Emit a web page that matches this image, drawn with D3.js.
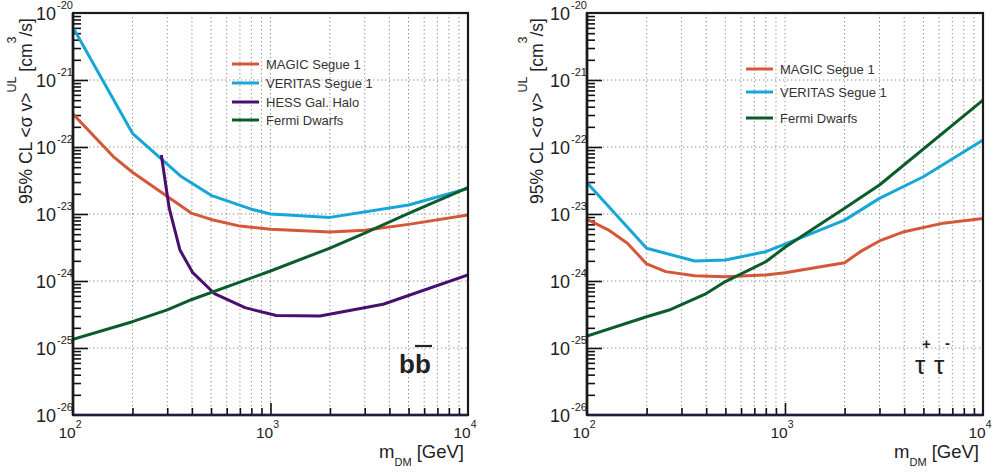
<!DOCTYPE html>
<html><head><meta charset="utf-8">
<script src="https://cdn.jsdelivr.net/npm/d3@7"></script>
<style>body{margin:0;background:#fff}svg{font-family:"Liberation Sans",Arial,Helvetica,sans-serif}</style>
</head><body><svg id="c" width="994" height="473"></svg>
<script>
// ---------- data ----------
const xDecades = [100, 1000, 10000];
const xExponents = ["2", "3", "4"];
const yDecades = [1e-26, 1e-25, 1e-24, 1e-23, 1e-22, 1e-21, 1e-20];
const yExponents = ["-26", "-25", "-24", "-23", "-22", "-21", "-20"];

const seriesNames = ["MAGIC Segue 1", "VERITAS Segue 1", "HESS Gal. Halo", "Fermi Dwarfs"];
const seriesColors = ["#d4573a", "#17a6d8", "#4a0f6e", "#0b5c2a"];

// b bbar channel
const magicBbMass = [100, 160, 200, 400, 500, 700, 1000, 2000, 3000, 5000, 10000];
const magicBbUL   = [3.1e-22, 7.2e-23, 4.2e-23, 1.02e-23, 8.3e-24, 6.6e-24, 5.9e-24, 5.4e-24, 5.7e-24, 7.0e-24, 9.7e-24];
const veritasBbMass = [100, 200, 350, 500, 800, 1000, 2000, 5000, 10000];
const veritasBbUL   = [6.1e-21, 1.6e-22, 3.7e-23, 1.9e-23, 1.18e-23, 1.0e-23, 8.9e-24, 1.36e-23, 2.4e-23];
const hessBbMass = [280, 307, 348, 404, 520, 743, 1070, 1780, 3720, 10000];
const hessBbUL   = [7.6e-23, 1.22e-23, 2.9e-24, 1.33e-24, 6.5e-25, 4.0e-25, 3.05e-25, 3.0e-25, 4.5e-25, 1.23e-24];
const fermiBbMass = [100, 200, 300, 400, 1000, 2000, 3000, 5000, 10000];
const fermiBbUL   = [1.35e-25, 2.47e-25, 3.7e-25, 5.3e-25, 1.41e-24, 3.1e-24, 5.2e-24, 1.02e-23, 2.47e-23];

// tau+ tau- channel
const magicTauMass = [100, 128, 160, 200, 250, 350, 500, 800, 1000, 2000, 2400, 3000, 4000, 6300, 10000];
const magicTauUL   = [8.3e-24, 5.8e-24, 3.66e-24, 1.8e-24, 1.38e-24, 1.2e-24, 1.16e-24, 1.23e-24, 1.33e-24, 1.87e-24, 2.74e-24, 3.96e-24, 5.45e-24, 7.3e-24, 8.6e-24];
const veritasTauMass = [100, 200, 350, 500, 800, 1000, 2000, 3000, 5000, 10000];
const veritasTauUL   = [2.93e-23, 3.08e-24, 1.99e-24, 2.06e-24, 2.74e-24, 3.56e-24, 8.1e-24, 1.71e-23, 3.6e-23, 1.27e-22];
const fermiTauMass = [100, 200, 260, 400, 500, 800, 1000, 2000, 3000, 10000];
const fermiTauUL   = [1.51e-25, 2.93e-25, 3.69e-25, 6.5e-25, 9.8e-25, 1.94e-24, 3.19e-24, 1.22e-23, 2.71e-23, 5.0e-22];

const panels = [
  { x0: 73, x1: 468, y0: 13, y1: 415, titleX: 32,
    series: [[magicBbMass, magicBbUL, 0], [veritasBbMass, veritasBbUL, 1], [hessBbMass, hessBbUL, 2], [fermiBbMass, fermiBbUL, 3]],
    legend: { lx: 232, tx: 266, rows: [64, 83, 102, 120], idx: [0, 1, 2, 3] } },
  { x0: 587, x1: 983, y0: 13, y1: 415, titleX: 543,
    series: [[magicTauMass, magicTauUL, 0], [veritasTauMass, veritasTauUL, 1], [fermiTauMass, fermiTauUL, 3]],
    legend: { lx: 746, tx: 780, rows: [69, 92, 118], idx: [0, 1, 3] } }
];

// ---------- drawing ----------
const svg = d3.select("#c");
const minorX = [], minorY = [];
xDecades.slice(0, -1).forEach(d => { for (let k = 2; k <= 9; k++) minorX.push(d * k); });
yDecades.slice(0, -1).forEach(d => { for (let k = 2; k <= 9; k++) minorY.push(d * k); });

panels.forEach((p, pi) => {
  const g = svg.append("g");
  const x = d3.scaleLog().domain([100, 1e4]).range([p.x0, p.x1]);
  const y = d3.scaleLog().domain([1e-26, 1e-20]).range([p.y1, p.y0]);

  const clipId = "clip" + pi;
  svg.append("clipPath").attr("id", clipId).append("rect")
    .attr("x", p.x0).attr("y", p.y0).attr("width", p.x1 - p.x0).attr("height", p.y1 - p.y0);

  // grid
  const vgrid = minorX.concat([1000]);
  g.append("g").selectAll("line").data(vgrid).join("line")
    .attr("x1", d => x(d)).attr("x2", d => x(d)).attr("y1", p.y0).attr("y2", p.y1)
    .attr("stroke", "#8c8c8c").attr("stroke-width", 1).attr("stroke-dasharray", "1.3,2.7");
  g.append("g").selectAll("line").data(yDecades.slice(1, -1)).join("line")
    .attr("x1", p.x0).attr("x2", p.x1).attr("y1", d => y(d)).attr("y2", d => y(d))
    .attr("stroke", "#8c8c8c").attr("stroke-width", 1).attr("stroke-dasharray", "1.3,2.7");

  // axes ticks (inside)
  const axY1 = g.append("g").attr("transform", `translate(${p.x0},0)`)
    .call(d3.axisRight(y).tickValues(minorY).tickSize(8).tickFormat(""));
  const axY2 = g.append("g").attr("transform", `translate(${p.x0},0)`)
    .call(d3.axisRight(y).tickValues(yDecades.slice(1, -1)).tickSize(15).tickFormat(""));
  const axX1 = g.append("g").attr("transform", `translate(0,${p.y1})`)
    .call(d3.axisTop(x).tickValues(minorX).tickSize(7).tickFormat(""));
  const axX2 = g.append("g").attr("transform", `translate(0,${p.y1})`)
    .call(d3.axisTop(x).tickValues([1000]).tickSize(12).tickFormat(""));
  [axY1, axY2, axX1, axX2].forEach(a => {
    a.select(".domain").remove();
    a.selectAll(".tick line").attr("stroke", "#111").attr("stroke-width", 1.6);
  });

  // curves
  const line = d3.line().x(d => x(d[0])).y(d => y(d[1]));
  p.series.forEach(([m, v, ci]) => {
    g.append("path").attr("clip-path", `url(#${clipId})`)
      .datum(d3.zip(m, v)).attr("d", line)
      .attr("fill", "none").attr("stroke", seriesColors[ci]).attr("stroke-width", 3)
      .attr("stroke-linejoin", "round");
  });

  // frame
  g.append("rect").attr("x", p.x0).attr("y", p.y0).attr("width", p.x1 - p.x0).attr("height", p.y1 - p.y0)
    .attr("fill", "none").attr("stroke", "#1a1a1a").attr("stroke-width", 2.2);
  g.append("line").attr("x1", p.x0).attr("x2", p.x1).attr("y1", p.y1).attr("y2", p.y1)
    .attr("stroke", "#1e1e3c").attr("stroke-width", 2.6);
  g.append("line").attr("x1", p.x0).attr("x2", p.x0).attr("y1", p.y0).attr("y2", p.y1)
    .attr("stroke", "#1a1a1a").attr("stroke-width", 2.6);

  // y tick labels
  yDecades.forEach((d, i) => {
    g.append("text").attr("x", p.x0 - 17).attr("y", y(d) + 7)
      .attr("text-anchor", "end").attr("font-size", 18).attr("fill", "#222").text("10");
    g.append("text").attr("x", p.x0 - 16).attr("y", y(d) - 4)
      .attr("font-size", 11).attr("fill", "#222").text(yExponents[i]);
  });
  // x tick labels
  xDecades.forEach((d, i) => {
    const t = g.append("text").attr("x", x(d) - 3).attr("y", 438)
      .attr("text-anchor", "middle").attr("font-size", 15.5).attr("fill", "#222");
    t.append("tspan").text("10");
    t.append("tspan").attr("font-size", 10.5).attr("dy", -10).text(xExponents[i]);
  });

  // x title
  const xt = g.append("text").attr("x", p.x1 - 4).attr("y", 458).attr("text-anchor", "end")
    .attr("font-size", 18.5).attr("fill", "#222");
  xt.append("tspan").text("m");
  xt.append("tspan").attr("font-size", 11).attr("dy", 8).text("DM");
  xt.append("tspan").attr("dy", -8).text(" [GeV]");

  // y title
  const yt = g.append("text").attr("transform", `translate(${p.titleX},111) rotate(-90)`)
    .attr("text-anchor", "middle").attr("font-size", 17.5).attr("fill", "#222");
  yt.append("tspan").text("95% CL <σ v>");
  yt.append("tspan").attr("font-size", 12.5).attr("dy", -16).text("UL");
  yt.append("tspan").attr("dy", 16).text(" [cm");
  yt.append("tspan").attr("font-size", 12.5).attr("dy", -16).text("3");
  yt.append("tspan").attr("dy", 16).text("/s]");

  // legend
  p.legend.idx.forEach((ci, k) => {
    const yy = p.legend.rows[k];
    g.append("line").attr("x1", p.legend.lx).attr("x2", p.legend.lx + 27).attr("y1", yy).attr("y2", yy)
      .attr("stroke", seriesColors[ci]).attr("stroke-width", 3);
    g.append("text").attr("x", p.legend.tx).attr("y", yy + 5).attr("font-size", 13)
      .attr("fill", "#333").text(seriesNames[ci]);
  });
});

// channel labels
svg.append("text").attr("x", 399).attr("y", 373).attr("font-size", 26).attr("font-weight", "bold")
  .attr("fill", "#222").text("bb");
svg.append("line").attr("x1", 415).attr("x2", 432).attr("y1", 346).attr("y2", 346)
  .attr("stroke", "#222").attr("stroke-width", 2.2);
svg.append("text").attr("x", 915).attr("y", 374).attr("font-size", 26).attr("fill", "#222").text("τ");
svg.append("text").attr("x", 922).attr("y", 349).attr("font-size", 15).attr("font-weight", "bold").attr("fill", "#222").text("+");
svg.append("text").attr("x", 934).attr("y", 374).attr("font-size", 26).attr("fill", "#222").text("τ");
svg.append("text").attr("x", 945).attr("y", 348).attr("font-size", 15).attr("font-weight", "bold").attr("fill", "#222").text("-");
</script></body></html>
